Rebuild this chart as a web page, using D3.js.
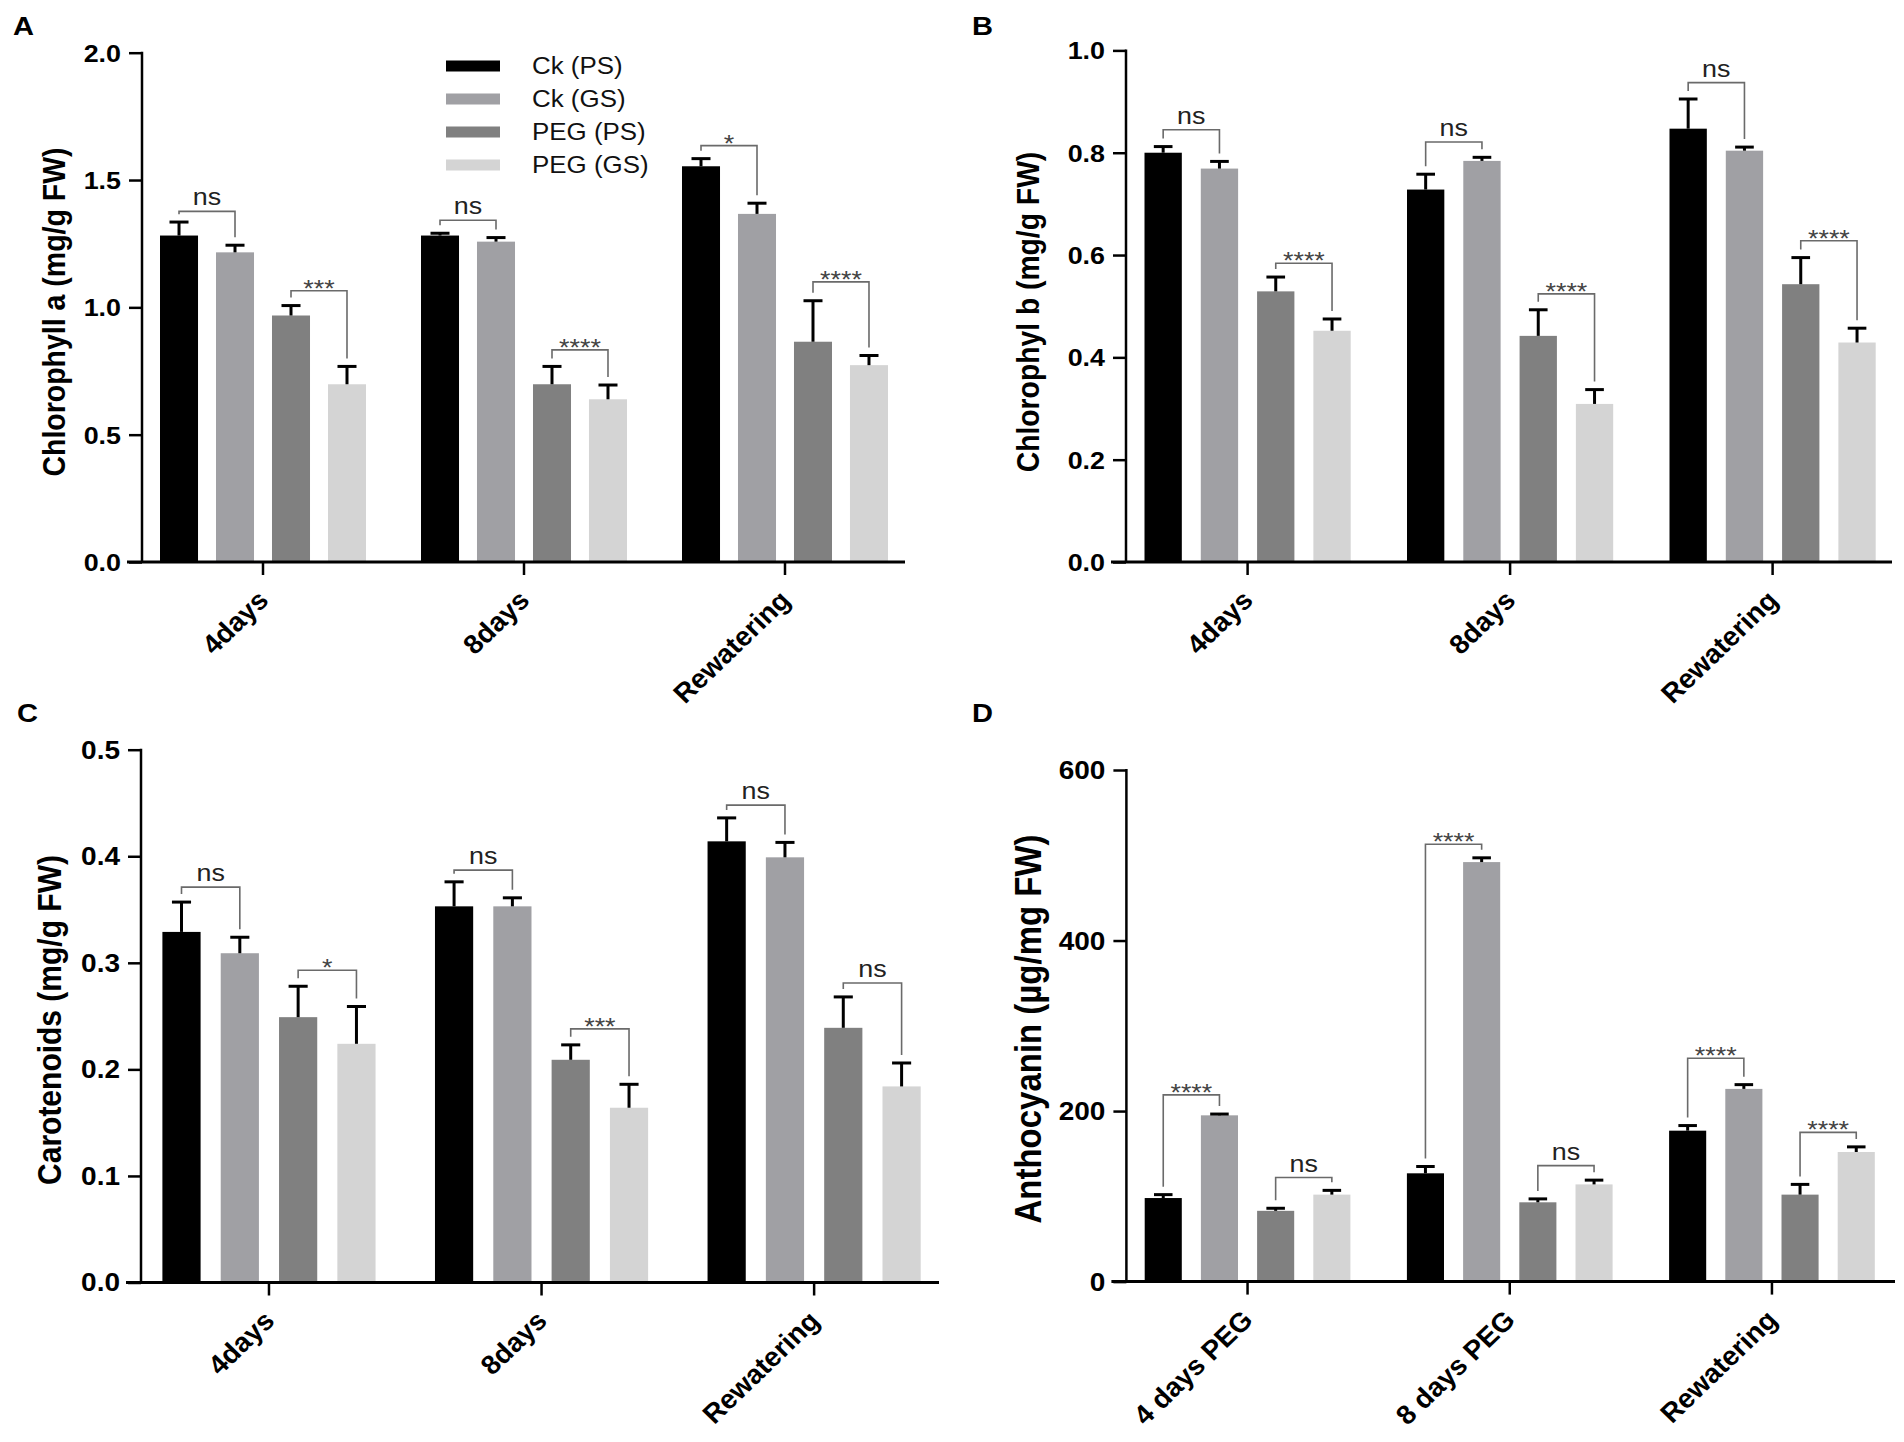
<!DOCTYPE html>
<html>
<head>
<meta charset="utf-8">
<script src="https://cdn.jsdelivr.net/npm/d3@7"></script>
<style>
  html, body { margin: 0; padding: 0; background: #fff; }
  svg text { font-family: "Liberation Sans", Arial, Helvetica, sans-serif; }
</style>
</head>
<body>
<svg id="chart" width="1904" height="1442"></svg>
<script>
// ---------------- DATA ----------------
const categoriesABC = ["4days", "8days", "Rewatering"];
const categoriesD = ["4 days PEG", "8 days PEG", "Rewatering"];
const seriesNames = ["Ck (PS)", "Ck (GS)", "PEG (PS)", "PEG (GS)"];

// Chlorophyll a (mg/g FW): rows = categories, columns = series
const chlAMeans  = [[1.282, 1.216, 0.968, 0.698], [1.282, 1.258, 0.698, 0.639], [1.554, 1.367, 0.865, 0.773]];
const chlAErrors = [[0.053, 0.028, 0.039, 0.070], [0.009, 0.016, 0.070, 0.056], [0.030, 0.042, 0.161, 0.038]];
const chlATicks  = [0, 0.5, 1.0, 1.5, 2.0];
// [category, seriesA, seriesB, label, bracket value]
const chlASig = [[0, 0, 1, "ns", 1.377], [0, 2, 3, "***", 1.065], [1, 0, 1, "ns", 1.342], [1, 2, 3, "****", 0.833], [2, 0, 1, "*", 1.635], [2, 2, 3, "****", 1.10]];

// Chlorophyl b (mg/g FW)
const chlBMeans  = [[0.800, 0.769, 0.529, 0.452], [0.728, 0.784, 0.442, 0.309], [0.847, 0.804, 0.543, 0.429]];
const chlBErrors = [[0.012, 0.014, 0.028, 0.023], [0.030, 0.007, 0.051, 0.028], [0.058, 0.007, 0.052, 0.028]];
const chlBTicks  = [0, 0.2, 0.4, 0.6, 0.8, 1.0];
const chlBSig = [[0, 0, 1, "ns", 0.845], [0, 2, 3, "****", 0.584], [1, 0, 1, "ns", 0.821], [1, 2, 3, "****", 0.524], [2, 0, 1, "ns", 0.937], [2, 2, 3, "****", 0.628]];

// Carotenoids (mg/g FW)
const carMeans  = [[0.329, 0.309, 0.249, 0.224], [0.353, 0.353, 0.209, 0.164], [0.414, 0.399, 0.239, 0.184]];
const carErrors = [[0.028, 0.015, 0.029, 0.035], [0.023, 0.008, 0.014, 0.022], [0.022, 0.014, 0.029, 0.022]];
const carTicks  = [0, 0.1, 0.2, 0.3, 0.4, 0.5];
const carSig = [[0, 0, 1, "ns", 0.371], [0, 2, 3, "*", 0.293], [1, 0, 1, "ns", 0.387], [1, 2, 3, "***", 0.238], [2, 0, 1, "ns", 0.448], [2, 2, 3, "ns", 0.281]];

// Anthocyanin (µg/mg FW)
const antMeans  = [[98, 195, 83, 102], [127, 492, 93, 114], [177, 226, 102, 152]];
const antErrors = [[4, 1.5, 3, 5], [8, 5, 4, 5], [6, 5, 12, 6]];
const antTicks  = [0, 200, 400, 600];
const antSig = [[0, 0, 1, "****", 219], [0, 2, 3, "ns", 122], [1, 0, 1, "****", 513], [1, 2, 3, "ns", 136], [2, 0, 1, "****", 262], [2, 2, 3, "****", 175]];

// ---------------- STYLE / LAYOUT ----------------
const seriesColors = ["#000000", "#a0a0a4", "#808080", "#d4d4d4"];
const STRETCH = 1.12; // horizontal stretch of the original figure's text

const panels = [
  { letter: "A", lx: 13, ly: 35, title: "Chlorophyll a (mg/g FW)", titleX: 54, titleY: 312, titleSize: 28.5,
    cats: categoriesABC, means: chlAMeans, errs: chlAErrors, ticks: chlATicks, fmt: d3.format(".1f"), sig: chlASig,
    domain: [0, 2], axisX: 142, yTop: 52.7, yBottom: 562, bandStart: 160, bandEnd: 888, groupPad: 0.2107, barPad: 0.321, axisEnd: 905, tickSize: 24, legend: true },
  { letter: "B", lx: 972, ly: 35, title: "Chlorophyl b (mg/g FW)", titleX: 1028, titleY: 312, titleSize: 28.3,
    cats: categoriesABC, means: chlBMeans, errs: chlBErrors, ticks: chlBTicks, fmt: d3.format(".1f"), sig: chlBSig,
    domain: [0, 1], axisX: 1126, yTop: 50.4, yBottom: 562, bandStart: 1144.5, bandEnd: 1875.7, groupPad: 0.2145, barPad: 0.337, axisEnd: 1892, tickSize: 24 },
  { letter: "C", lx: 17, ly: 722, title: "Carotenoids (mg/g FW)", titleX: 49, titleY: 1020, titleSize: 30,
    cats: categoriesABC, means: carMeans, errs: carErrors, ticks: carTicks, fmt: d3.format(".1f"), sig: carSig,
    domain: [0, 0.5], axisX: 141, yTop: 749.7, yBottom: 1282.5, bandStart: 162.4, bandEnd: 920.7, groupPad: 0.218, barPad: 0.345, axisEnd: 939, tickSize: 25 },
  { letter: "D", lx: 972, ly: 722, title: "Anthocyanin (µg/mg FW)", titleX: 1028, titleY: 1029, titleSize: 33,
    cats: categoriesD, means: antMeans, errs: antErrors, ticks: antTicks, fmt: d3.format("d"), sig: antSig,
    domain: [0, 600], axisX: 1126.4, yTop: 770, yBottom: 1281.6, bandStart: 1144.7, bandEnd: 1874.8, groupPad: 0.2155, barPad: 0.34, axisEnd: 1895, tickSize: 25 }
];

const svg = d3.select("#chart");

panels.forEach(p => {
  const g = svg.append("g");
  const y = d3.scaleLinear().domain(p.domain).range([p.yBottom, p.yTop]);
  const x0 = d3.scaleBand().domain(p.cats).range([p.bandStart, p.bandEnd]).paddingInner(p.groupPad).paddingOuter(0);
  const x1 = d3.scaleBand().domain(seriesNames).range([0, x0.bandwidth()]).paddingInner(p.barPad).paddingOuter(0);

  // data rows
  const rows = [];
  p.cats.forEach((c, ci) => seriesNames.forEach((s, si) => {
    rows.push({ c, ci, s, si, v: p.means[ci][si], e: p.errs[ci][si] });
  }));

  // bars
  g.selectAll("rect.bar").data(rows).join("rect")
    .attr("class", "bar")
    .attr("x", d => x0(d.c) + x1(d.s))
    .attr("width", x1.bandwidth())
    .attr("y", d => y(d.v))
    .attr("height", d => y(0) - y(d.v))
    .attr("fill", d => seriesColors[d.si]);

  // error bars (upper only)
  const capHalf = x1.bandwidth() * 0.25;
  const eg = g.selectAll("g.err").data(rows).join("g").attr("class", "err")
    .attr("stroke", "#000").attr("stroke-width", 3);
  eg.append("line")
    .attr("x1", d => x0(d.c) + x1(d.s) + x1.bandwidth() / 2)
    .attr("x2", d => x0(d.c) + x1(d.s) + x1.bandwidth() / 2)
    .attr("y1", d => y(d.v))
    .attr("y2", d => y(d.v + d.e));
  eg.append("line")
    .attr("x1", d => x0(d.c) + x1(d.s) + x1.bandwidth() / 2 - capHalf)
    .attr("x2", d => x0(d.c) + x1(d.s) + x1.bandwidth() / 2 + capHalf)
    .attr("y1", d => y(d.v + d.e))
    .attr("y2", d => y(d.v + d.e));

  // significance brackets
  const center = (ci, si) => x0(p.cats[ci]) + x1(seriesNames[si]) + x1.bandwidth() / 2;
  const sg = g.selectAll("g.sig").data(p.sig).join("g").attr("class", "sig");
  sg.append("path")
    .attr("fill", "none").attr("stroke", "#6a6a6a").attr("stroke-width", 1.6)
    .attr("d", d => {
      const [ci, a, b, , val] = d;
      const top = y(val);
      const xa = center(ci, a), xb = center(ci, b);
      const ya = Math.max(top + 3, y(p.means[ci][a] + p.errs[ci][a]) - 8);
      const yb = Math.max(top + 3, y(p.means[ci][b] + p.errs[ci][b]) - 8);
      return `M${xa},${ya}V${top}H${xb}V${yb}`;
    });
  sg.append("text")
    .attr("text-anchor", "middle")
    .attr("font-size", 24)
    .attr("fill", d => d[3] === "ns" ? "#222" : "#444")
    .attr("transform", d => {
      const [ci, a, b, label, val] = d;
      const cx = (center(ci, a) + center(ci, b)) / 2;
      const ty = label === "ns" ? y(val) - 6 : y(val) + 6;
      return `translate(${cx},${ty}) scale(${STRETCH},1)`;
    })
    .text(d => d[3]);

  // y axis
  const yAxis = d3.axisLeft(y).tickValues(p.ticks).tickFormat(p.fmt).tickSize(13).tickSizeOuter(0);
  const ya = g.append("g").attr("transform", `translate(${p.axisX},0)`).call(yAxis);
  ya.select(".domain").remove();
  ya.selectAll(".tick line").attr("stroke", "#000").attr("stroke-width", 2.5);
  ya.selectAll(".tick text")
    .attr("x", 0).attr("dy", null)
    .attr("dominant-baseline", "central")
    .attr("transform", `translate(-21,0) scale(${STRETCH},1)`)
    .attr("font-size", p.tickSize).attr("font-weight", "bold").attr("fill", "#000")
    .attr("font-family", "'Liberation Sans', Arial, sans-serif");
  g.append("line")
    .attr("x1", p.axisX).attr("x2", p.axisX)
    .attr("y1", y(p.domain[1]) - 1).attr("y2", y(0))
    .attr("stroke", "#000").attr("stroke-width", 2.5);

  // x axis
  const xAxis = d3.axisBottom(x0).tickSize(13).tickSizeOuter(0);
  const xa = g.append("g").attr("transform", `translate(0,${y(0)})`).call(xAxis);
  xa.select(".domain").remove();
  xa.selectAll(".tick line").attr("stroke", "#000").attr("stroke-width", 2.5);
  xa.selectAll(".tick text")
    .attr("x", 0).attr("y", 0).attr("dy", null)
    .attr("text-anchor", "end")
    .attr("transform", `translate(7,40) scale(1.04,1) rotate(-45)`)
    .attr("font-size", 27).attr("font-weight", "bold").attr("fill", "#000")
    .attr("font-family", "'Liberation Sans', Arial, sans-serif");
  g.append("line")
    .attr("x1", p.axisX - 15).attr("x2", p.axisEnd)
    .attr("y1", y(0)).attr("y2", y(0))
    .attr("stroke", "#000").attr("stroke-width", 3);

  // y title
  g.append("text")
    .attr("transform", `translate(${p.titleX},${p.titleY}) scale(${STRETCH},1) rotate(-90)`)
    .attr("text-anchor", "middle")
    .attr("dominant-baseline", "central")
    .attr("font-size", p.titleSize).attr("font-weight", "bold")
    .text(p.title);

  // panel letter
  g.append("text")
    .attr("transform", `translate(${p.lx},${p.ly}) scale(${STRETCH},1)`)
    .attr("font-size", 26).attr("font-weight", "bold")
    .text(p.letter);

  // legend
  if (p.legend) {
    const lg = g.append("g");
    const items = lg.selectAll("g").data(seriesNames).join("g")
      .attr("transform", (d, i) => `translate(446,${66 + i * 33})`);
    items.append("rect").attr("x", 0).attr("y", -5.5).attr("width", 54).attr("height", 11)
      .attr("fill", (d, i) => seriesColors[i]);
    items.append("text")
      .attr("transform", `translate(86,8) scale(1.08,1)`)
      .attr("font-size", 24).attr("fill", "#111")
      .text(d => d);
  }
});
</script>
</body>
</html>
